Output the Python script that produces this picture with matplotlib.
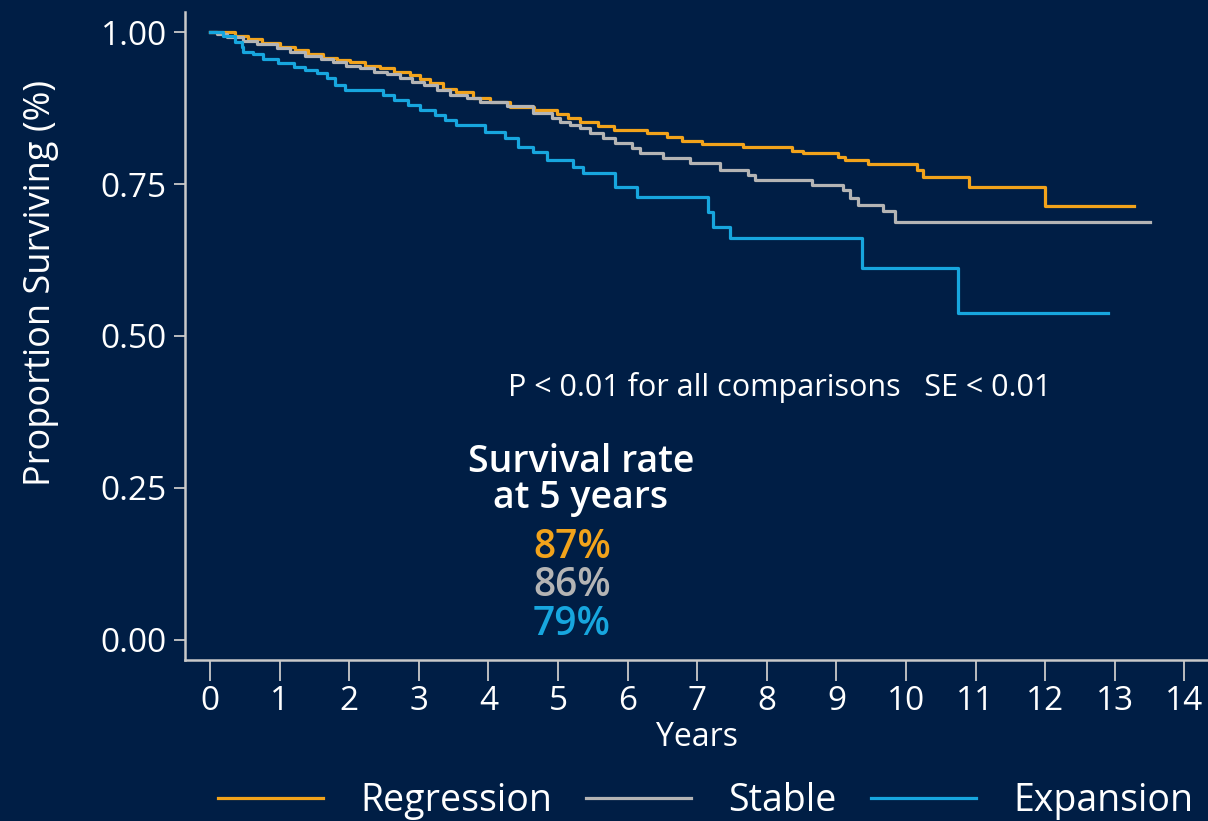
import matplotlib.pyplot as plt

BG = "#001e45"
ORANGE = "#f2a31b"
GREY = "#b4b4b4"
BLUE = "#17a6de"
AXIS = "#c9c9c9"

# Kaplan-Meier step data (time in years, survival proportion)
reg_t = [0, 0.36, 0.55, 0.74, 1.0, 1.22, 1.41, 1.63, 1.82, 2.01, 2.23, 2.44, 2.64, 2.87,
         3.02, 3.16, 3.35, 3.54, 3.78, 4.02, 4.31, 4.65, 4.98, 5.15, 5.32, 5.58, 5.8, 6.28,
         6.57, 6.78, 7.07, 7.66, 8.36, 8.52, 9.02, 9.12, 9.45, 10.16, 10.25, 10.9, 12.0, 13.27]
reg_s = [1.0, 0.993, 0.988, 0.982, 0.976, 0.970, 0.964, 0.958, 0.954, 0.950, 0.944, 0.941,
         0.935, 0.930, 0.922, 0.916, 0.907, 0.902, 0.892, 0.885, 0.877, 0.871, 0.865, 0.858,
         0.852, 0.845, 0.839, 0.834, 0.828, 0.821, 0.816, 0.811, 0.804, 0.801, 0.795, 0.789,
         0.783, 0.773, 0.762, 0.745, 0.714, 0.714]

stab_t = [0, 0.1, 0.24, 0.48, 0.67, 0.96, 1.15, 1.37, 1.6, 1.77, 1.96, 2.16, 2.35, 2.54,
          2.73, 2.9, 3.07, 3.26, 3.45, 3.69, 3.88, 4.26, 4.64, 4.91, 5.03, 5.17, 5.32, 5.46,
          5.65, 5.82, 6.06, 6.18, 6.51, 6.9, 7.33, 7.73, 7.83, 8.65, 9.1, 9.2, 9.31, 9.67,
          9.84, 13.5]
stab_s = [1.0, 0.996, 0.992, 0.986, 0.980, 0.973, 0.968, 0.961, 0.955, 0.950, 0.944, 0.941,
          0.935, 0.931, 0.924, 0.918, 0.913, 0.905, 0.896, 0.891, 0.885, 0.878, 0.867, 0.858,
          0.852, 0.847, 0.842, 0.834, 0.826, 0.817, 0.809, 0.801, 0.793, 0.784, 0.773, 0.765,
          0.757, 0.748, 0.740, 0.727, 0.715, 0.706, 0.688, 0.688]

exp_t = [0, 0.19, 0.36, 0.46, 0.48, 0.62, 0.76, 0.98, 1.2, 1.36, 1.53, 1.68, 1.8, 1.94,
         2.49, 2.64, 2.85, 3.02, 3.23, 3.38, 3.54, 3.95, 4.24, 4.43, 4.64, 4.84, 5.22, 5.36,
         5.82, 6.13, 7.16, 7.23, 7.47, 9.37, 10.75, 12.9]
exp_s = [1.0, 0.993, 0.984, 0.976, 0.968, 0.964, 0.955, 0.949, 0.943, 0.938, 0.932, 0.924,
         0.913, 0.905, 0.896, 0.888, 0.880, 0.872, 0.864, 0.855, 0.847, 0.836, 0.825, 0.811,
         0.803, 0.789, 0.778, 0.768, 0.745, 0.729, 0.704, 0.679, 0.661, 0.612, 0.538, 0.538]

series = ["Regression", "Stable", "Expansion"]
rates_5y = ["87%", "86%", "79%"]
x_ticks = list(range(0, 15))
y_ticks = [0.0, 0.25, 0.5, 0.75, 1.0]

plt.rcParams["font.family"] = ["Open Sans", "DejaVu Sans"]

fig = plt.figure(figsize=(12.08, 8.21), dpi=100, facecolor=BG)
ax = fig.add_axes([185 / 1208, 161 / 821, 1023 / 1208, 648 / 821], facecolor=BG)

colors = [ORANGE, GREY, BLUE]
for t, s, c, name in zip([reg_t, stab_t, exp_t], [reg_s, stab_s, exp_s], colors, series):
    ax.step(t, s, where="post", color=c, lw=2.3, label=name)

ax.set_xlim(-0.36, 14.34)
ax.set_ylim(-0.033, 1.033)
ax.set_xticks(x_ticks)
ax.set_yticks(y_ticks)
ax.set_yticklabels([f"{v:.2f}" for v in y_ticks])

for side in ["top", "right"]:
    ax.spines[side].set_visible(False)
for side in ["left", "bottom"]:
    ax.spines[side].set_color(AXIS)
    ax.spines[side].set_linewidth(1.8)

ax.tick_params(axis="both", colors=AXIS, labelcolor="white", labelsize=24, width=1.3)
ax.tick_params(axis="x", length=15, pad=3)
ax.tick_params(axis="y", length=8, pad=5)

ax.set_xlabel("Years", color="white", fontsize=23, labelpad=2)
ax.set_ylabel("Proportion Surviving (%)", color="white", fontsize=26)
ax.yaxis.set_label_coords(-0.123, 0.582)

ax.text(4.28, 0.416, "P < 0.01 for all comparisons   SE < 0.01", color="white",
        fontsize=22, ha="left", va="center")
ax.text(5.33, 0.263, "Survival rate\nat 5 years", color="white", fontsize=27,
        fontweight="semibold", ha="center", va="center", linespacing=0.95)
for i, (txt, c) in enumerate(zip(rates_5y, colors)):
    ax.text(5.2, 0.152 - i * 0.064, txt, color=c, fontsize=28, fontweight="semibold",
            ha="center", va="center")

leg = fig.legend(loc="center", bbox_to_anchor=(0.584, 0.024), ncol=3, frameon=False,
                 fontsize=27, handlelength=2.8, handletextpad=1.0, columnspacing=0.9)
for txt in leg.get_texts():
    txt.set_color("white")

fig.savefig("out.png", dpi=100, facecolor=BG)
